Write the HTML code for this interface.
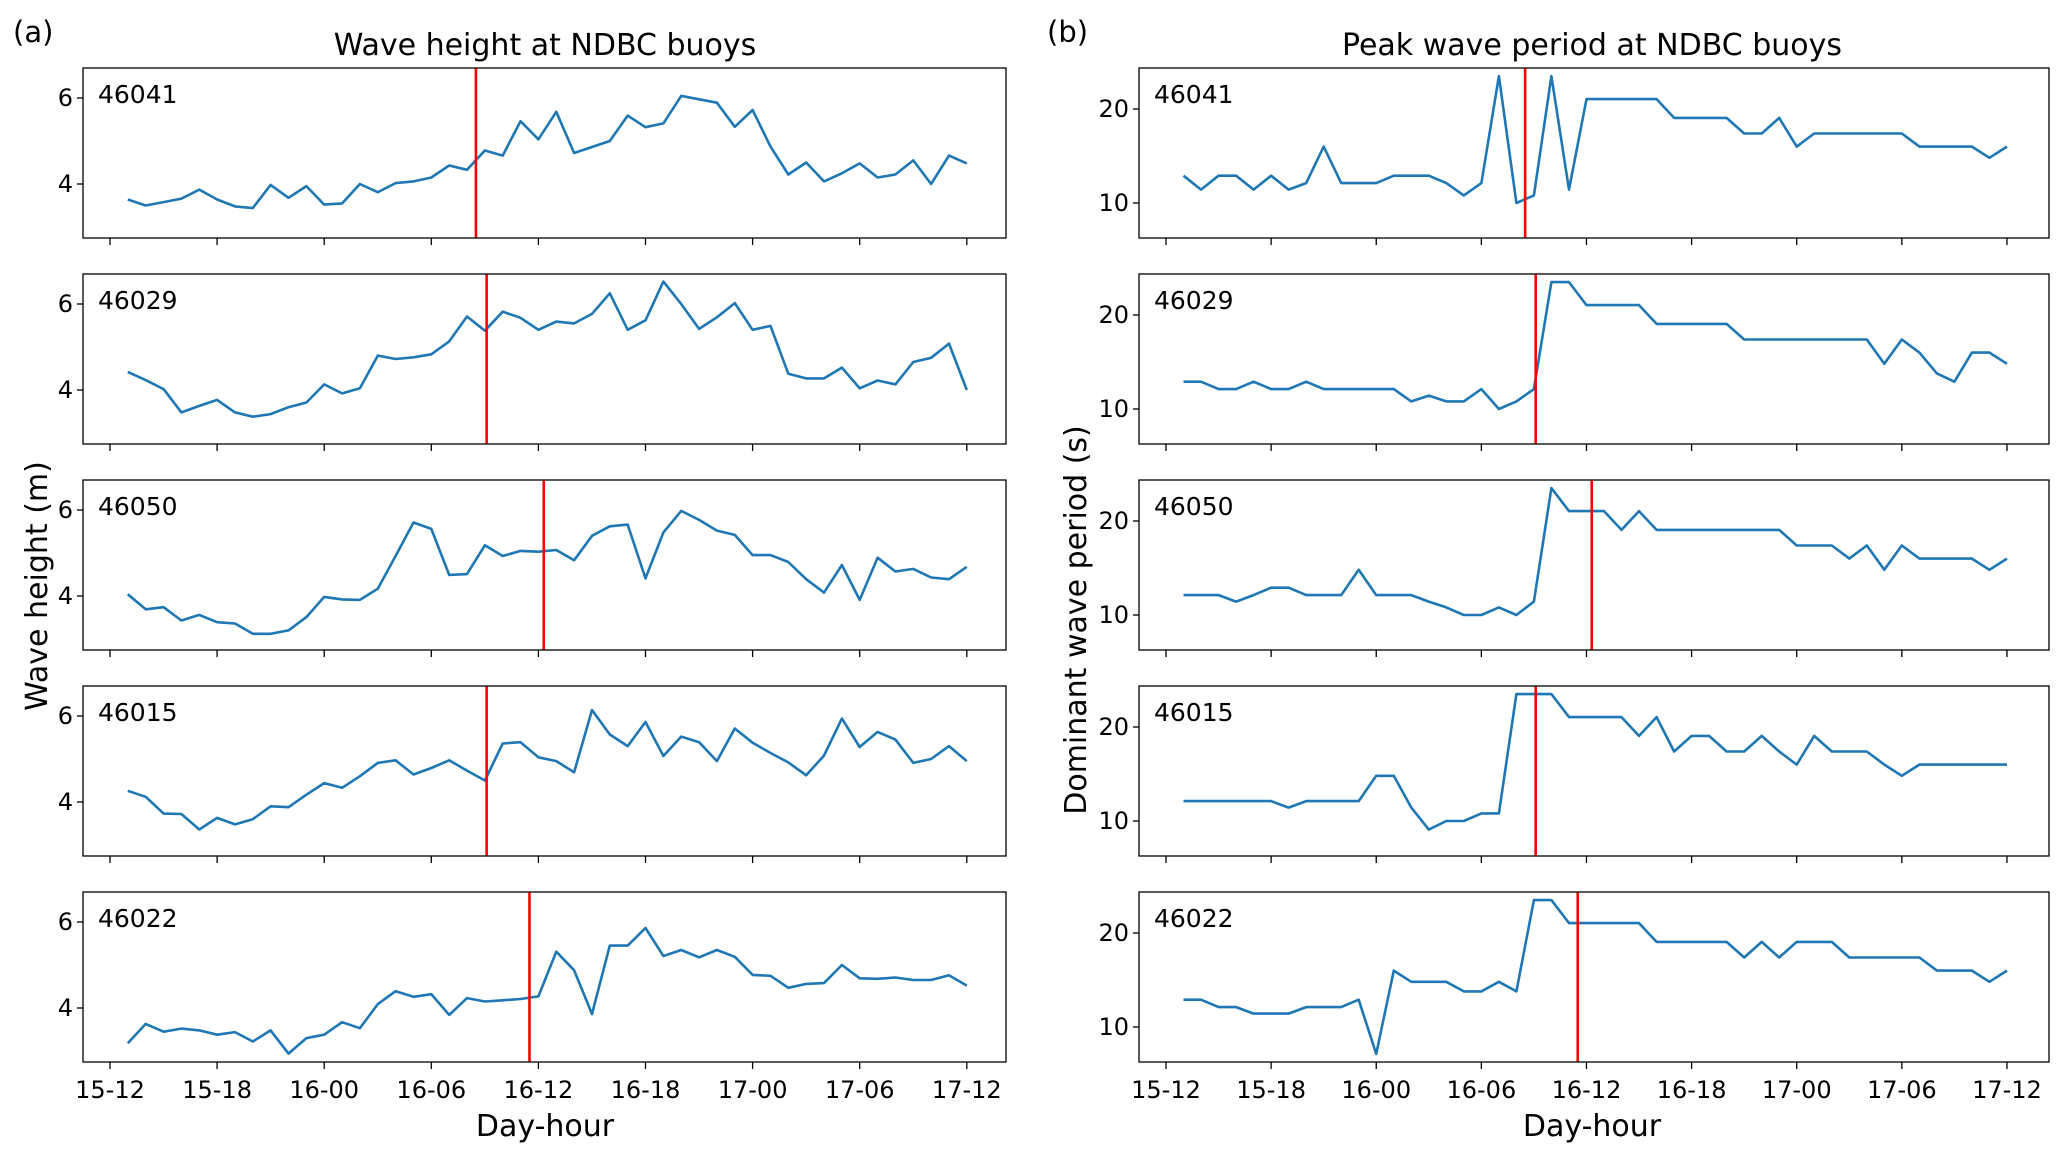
<!DOCTYPE html>
<html><head><meta charset="utf-8"><style>
html,body{margin:0;padding:0;background:#fff;}
svg text{font-family:"DejaVu Sans","Liberation Sans",sans-serif;fill:#000;}
</style></head><body>
<svg id="fig" width="2067" height="1160" viewBox="0 0 2067 1160" xmlns="http://www.w3.org/2000/svg">
<rect x="0" y="0" width="2067" height="1160" fill="#fff"/>
<text x="13" y="42" font-size="29">(a)</text>
<text x="1047" y="42" font-size="29">(b)</text>
<text x="545" y="55" font-size="30" text-anchor="middle">Wave height at NDBC buoys</text>
<text x="1592" y="55" font-size="30" text-anchor="middle">Peak wave period at NDBC buoys</text>
<text x="545" y="1136" font-size="30" text-anchor="middle">Day-hour</text>
<text x="1592" y="1136" font-size="30" text-anchor="middle">Day-hour</text>
<text transform="translate(47,586) rotate(-90)" font-size="30" text-anchor="middle">Wave height (m)</text>
<text transform="translate(1086,620) rotate(-90)" font-size="30" text-anchor="middle">Dominant wave period (s)</text>
<g id="plots"></g>
</svg>
<script>
const stations = ["46041","46029","46050","46015","46022"];
const hours = Array.from({length:48},(_,i)=>i+1);
const xTickHours = [0,6,12,18,24,30,36,42,48];
const xTickLabels = ["15-12","15-18","16-00","16-06","16-12","16-18","17-00","17-06","17-12"];
const hsTicks = [4,6];
const tpTicks = [10,20];
const redLineHours = [20.5,21.1,24.3,21.1,23.5];
const hs46041 = [3.64,3.50,3.58,3.66,3.87,3.64,3.48,3.44,3.98,3.68,3.95,3.52,3.55,4.00,3.81,4.02,4.06,4.15,4.43,4.33,4.78,4.66,5.46,5.04,5.68,4.72,4.86,5.00,5.59,5.32,5.41,6.05,5.97,5.89,5.33,5.72,4.87,4.22,4.50,4.06,4.25,4.48,4.15,4.22,4.55,4.00,4.66,4.48];
const hs46029 = [4.42,4.23,4.02,3.48,3.63,3.77,3.48,3.38,3.44,3.60,3.71,4.13,3.92,4.04,4.80,4.72,4.76,4.83,5.13,5.71,5.38,5.82,5.68,5.40,5.59,5.55,5.77,6.25,5.40,5.62,6.52,6.00,5.42,5.69,6.02,5.40,5.49,4.38,4.27,4.27,4.52,4.04,4.22,4.13,4.65,4.75,5.08,4.00];
const hs46050 = [4.04,3.69,3.74,3.43,3.56,3.39,3.36,3.12,3.12,3.20,3.51,3.98,3.92,3.91,4.17,4.93,5.71,5.56,4.49,4.51,5.18,4.93,5.05,5.03,5.07,4.83,5.40,5.62,5.66,4.41,5.48,5.98,5.77,5.52,5.42,4.95,4.95,4.79,4.39,4.08,4.72,3.91,4.89,4.57,4.63,4.43,4.39,4.68];
const hs46015 = [4.26,4.12,3.73,3.72,3.36,3.63,3.48,3.60,3.90,3.88,4.17,4.44,4.33,4.60,4.91,4.97,4.64,4.79,4.97,4.73,4.50,5.36,5.39,5.04,4.95,4.69,6.14,5.57,5.30,5.86,5.07,5.52,5.39,4.95,5.71,5.38,5.14,4.92,4.62,5.08,5.94,5.28,5.63,5.45,4.91,5.00,5.30,4.95];
const hs46022 = [3.18,3.63,3.45,3.52,3.48,3.38,3.44,3.22,3.48,2.94,3.30,3.38,3.67,3.53,4.09,4.39,4.26,4.32,3.84,4.23,4.15,4.18,4.21,4.27,5.31,4.88,3.86,5.45,5.45,5.86,5.21,5.35,5.18,5.35,5.19,4.77,4.75,4.47,4.56,4.58,5.00,4.69,4.68,4.71,4.65,4.65,4.76,4.52];
const tp46041 = [12.9,11.43,12.9,12.9,11.43,12.9,11.43,12.12,16.0,12.12,12.12,12.12,12.9,12.9,12.9,12.12,10.81,12.12,23.5,10.0,10.81,23.5,11.43,21.05,21.05,21.05,21.05,21.05,19.05,19.05,19.05,19.05,17.39,17.39,19.05,16.0,17.39,17.39,17.39,17.39,17.39,17.39,16.0,16.0,16.0,16.0,14.81,16.0];
const tp46029 = [12.9,12.9,12.12,12.12,12.9,12.12,12.12,12.9,12.12,12.12,12.12,12.12,12.12,10.81,11.43,10.81,10.81,12.12,10.0,10.81,12.12,23.5,23.5,21.05,21.05,21.05,21.05,19.05,19.05,19.05,19.05,19.05,17.39,17.39,17.39,17.39,17.39,17.39,17.39,17.39,14.81,17.39,16.0,13.79,12.9,16.0,16.0,14.81];
const tp46050 = [12.12,12.12,12.12,11.43,12.12,12.9,12.9,12.12,12.12,12.12,14.81,12.12,12.12,12.12,11.43,10.81,10.0,10.0,10.81,10.0,11.43,23.5,21.05,21.05,21.05,19.05,21.05,19.05,19.05,19.05,19.05,19.05,19.05,19.05,19.05,17.39,17.39,17.39,16.0,17.39,14.81,17.39,16.0,16.0,16.0,16.0,14.81,16.0];
const tp46015 = [12.12,12.12,12.12,12.12,12.12,12.12,11.43,12.12,12.12,12.12,12.12,14.81,14.81,11.43,9.09,10.0,10.0,10.81,10.81,23.5,23.5,23.5,21.05,21.05,21.05,21.05,19.05,21.05,17.39,19.05,19.05,17.39,17.39,19.05,17.39,16.0,19.05,17.39,17.39,17.39,16.0,14.81,16.0,16.0,16.0,16.0,16.0,16.0];
const tp46022 = [12.9,12.9,12.12,12.12,11.43,11.43,11.43,12.12,12.12,12.12,12.9,7.14,16.0,14.81,14.81,14.81,13.79,13.79,14.81,13.79,23.5,23.5,21.05,21.05,21.05,21.05,21.05,19.05,19.05,19.05,19.05,19.05,17.39,19.05,17.39,19.05,19.05,19.05,17.39,17.39,17.39,17.39,17.39,16.0,16.0,16.0,14.81,16.0];
const hsSeries = [hs46041,hs46029,hs46050,hs46015,hs46022];
const tpSeries = [tp46041,tp46029,tp46050,tp46015,tp46022];

const NS="http://www.w3.org/2000/svg";
const root=document.getElementById('plots');
function mk(tag,attrs,parent){const e=document.createElementNS(NS,tag);for(const k in attrs)e.setAttribute(k,attrs[k]);(parent||root).appendChild(e);return e;}
const PANEL_H=170, PANEL_STEP=206, TOP0=68;
const L={x0:83,x1:1006,xOrigin:110,xPerH:17.85,yRef:6,yRefOff:30,yPer:43,ticks:hsTicks,kind:'height'};
const R={x0:1139,x1:2049,xOrigin:1166,xPerH:17.52,yRef:20,yRefOff:41,yPer:9.4,ticks:tpTicks,kind:'period'};
function drawPanel(cfg,k,values,station,redH){
  const top=TOP0+k*PANEL_STEP, bot=top+PANEL_H;
  const xs=h=>cfg.xOrigin+h*cfg.xPerH;
  const ys=v=>top+cfg.yRefOff+(cfg.yRef-v)*cfg.yPer;
  const g=mk('g',{});
  
  
  const clipId='clip-'+cfg.kind+k;
  const cp=mk('clipPath',{id:clipId},g);
  mk('rect',{x:cfg.x0,y:top,width:cfg.x1-cfg.x0,height:PANEL_H},cp);
  cfg.ticks.forEach(t=>{
    const y=ys(t);
    const tl=mk('line',{x1:cfg.x0-6,x2:cfg.x0,y1:y,y2:y,stroke:'#000','stroke-width':1.3},g);
    
    
    const tx=mk('text',{x:cfg.x0-10,y:y+8,'font-size':24,'text-anchor':'end'},g);
    tx.textContent=String(t);
    
    
  });
  xTickHours.forEach((h,i)=>{
    const x=xs(h);
    const tl=mk('line',{x1:x,x2:x,y1:bot,y2:bot+7,stroke:'#000','stroke-width':1.3},g);
    
    
    if(k===4){
      const tx=mk('text',{x:x,y:bot+36,'font-size':24,'text-anchor':'middle'},g);
      tx.textContent=xTickLabels[i];
      
      
    }
  });
  const pts=values.map((v,i)=>xs(hours[i]).toFixed(1)+','+ys(v).toFixed(1)).join(' ');
  const pl=mk('polyline',{points:pts,fill:'none',stroke:'#1f77b4','stroke-width':2.6,'stroke-linejoin':'round','clip-path':'url(#'+clipId+')'},g);
  
  
  const rx=xs(redH);
  const rl=mk('line',{x1:rx,x2:rx,y1:top,y2:bot,stroke:'#ff0000','stroke-width':2.6},g);
  
  
  const fr=mk('rect',{x:cfg.x0,y:top,width:cfg.x1-cfg.x0,height:PANEL_H,fill:'none',stroke:'#000','stroke-width':1.3},g);
  
  
  const lb=mk('text',{x:cfg.x0+15,y:top+35,'font-size':25},g);
  lb.textContent=station;
  
  
}
stations.forEach((s,k)=>{
  drawPanel(L,k,hsSeries[k],s,redLineHours[k]);
  drawPanel(R,k,tpSeries[k],s,redLineHours[k]);
});
</script>
</body></html>
